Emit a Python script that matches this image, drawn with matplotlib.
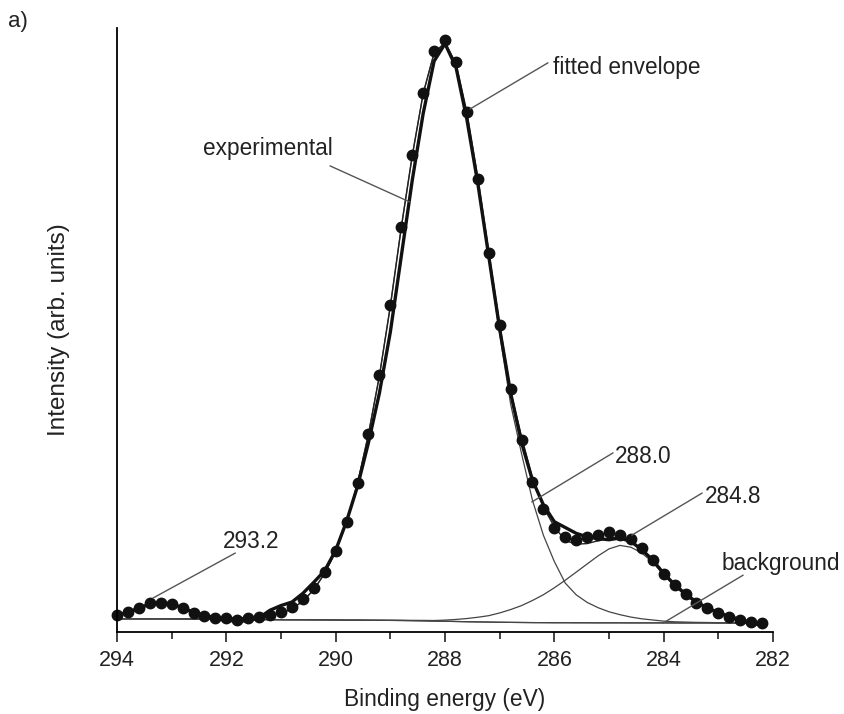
import numpy as np
import matplotlib.pyplot as plt
from matplotlib.ticker import MultipleLocator

plt.rcParams['font.family'] = ['Liberation Sans', 'DejaVu Sans']

# binding energy grid of the spectrum, 294.0 -> 282.2 eV in 0.2 eV steps
energy = np.round(np.arange(294.0, 282.1, -0.2), 1)

# measured points (dots)
points = [1.4, 1.9, 2.6, 3.4, 3.5, 3.3, 2.5, 1.8, 1.2, 0.8,
          0.8, 0.6, 0.9, 1.0, 1.3, 1.9, 2.8, 4.1, 6.0, 8.7,
          12.4, 17.4, 24.1, 32.5, 42.6, 54.6, 68.1, 80.3, 91.0, 98.2,
          100.1, 96.3, 87.7, 76.2, 63.5, 51.1, 40.2, 31.4, 24.3, 19.6,
          16.3, 14.7, 14.3, 14.7, 15.2, 15.7, 15.2, 14.4, 12.8, 10.9,
          8.5, 6.5, 5.0, 3.4, 2.5, 1.8, 1.1, 0.5, 0.2, 0.05]

# experimental curve (thick line)
experimental = [1.3, 1.8, 2.5, 3.3, 3.5, 3.3, 2.6, 1.8, 1.2, 0.7,
                0.5, 0.3, 0.4, 0.9, 2.2, 3.0, 3.6, 5.1, 7.0, 9.0,
                12.5, 17.5, 23.5, 31.0, 39.5, 50.0, 63.0, 76.0, 87.5, 96.5,
                99.5, 95.5, 86.5, 75.5, 63.0, 50.5, 39.5, 31.0, 24.5, 20.3,
                17.4, 16.4, 15.4, 14.8, 14.5, 14.3, 14.6, 14.0, 12.6, 10.8,
                8.5, 6.6, 5.0, 3.6, 2.6, 1.8, 1.1, 0.6, -0.3, -0.1]

# background
background = [0.7, 0.7, 0.7, 0.7, 0.7, 0.68, 0.66, 0.65, 0.64, 0.62,
              0.6, 0.6, 0.6, 0.58, 0.58, 0.56, 0.55, 0.55, 0.54, 0.53,
              0.52, 0.5, 0.5, 0.48, 0.47, 0.45, 0.43, 0.4, 0.37, 0.33,
              0.3, 0.26, 0.22, 0.19, 0.16, 0.13, 0.11, 0.09, 0.07, 0.06,
              0.05, 0.05, 0.04, 0.04, 0.03, 0.03, 0.03, 0.02, 0.02, 0.02,
              0.02, 0.01, 0.01, 0.01, 0.01, 0.0, 0.0, 0.0, 0.0, 0.0]

# fitted components (above background)
comp_2932 = [0.8, 1.3, 2.0, 2.6, 2.8, 2.6, 2.0, 1.3, 0.7, 0.35,
             0.15, 0.05, 0.0, 0.0, 0.0, 0.0, 0.0, 0.0, 0.0, 0.0,
             0.0, 0.0, 0.0, 0.0, 0.0, 0.0, 0.0, 0.0, 0.0, 0.0,
             0.0, 0.0, 0.0, 0.0, 0.0, 0.0, 0.0, 0.0, 0.0, 0.0,
             0.0, 0.0, 0.0, 0.0, 0.0, 0.0, 0.0, 0.0, 0.0, 0.0,
             0.0, 0.0, 0.0, 0.0, 0.0, 0.0, 0.0, 0.0, 0.0, 0.0]

comp_2880 = [0.0, 0.0, 0.0, 0.0, 0.02, 0.05, 0.08, 0.1, 0.13, 0.16,
             0.2, 0.25, 0.3, 0.45, 0.7, 1.1, 1.9, 3.2, 5.2, 8.0,
             11.8, 16.8, 23.5, 32.0, 42.0, 54.0, 67.5, 79.8, 90.5, 97.5,
             99.2, 95.5, 87.0, 75.5, 62.5, 49.5, 37.5, 29.0, 21.0, 15.0,
             10.5, 6.8, 4.8, 3.5, 2.6, 1.9, 1.4, 1.0, 0.7, 0.5,
             0.3, 0.2, 0.15, 0.1, 0.08, 0.05, 0.03, 0.02, 0.01, 0.0]

comp_2848 = [0.0, 0.0, 0.0, 0.0, 0.0, 0.0, 0.0, 0.0, 0.0, 0.0,
             0.0, 0.0, 0.0, 0.0, 0.0, 0.0, 0.0, 0.0, 0.0, 0.0,
             0.0, 0.0, 0.0, 0.0, 0.0, 0.02, 0.04, 0.06, 0.08, 0.1,
             0.2, 0.35, 0.55, 0.8, 1.1, 1.6, 2.2, 2.9, 3.8, 4.8,
             6.0, 7.3, 8.7, 10.1, 11.5, 12.7, 13.3, 13.0, 12.0, 10.4,
             8.3, 6.3, 4.7, 3.4, 2.4, 1.6, 1.0, 0.6, 0.3, 0.15]

# labels: text, text anchor (energy, intensity), leader line start and end
labels = ['experimental', 'fitted envelope', '293.2', '288.0', '284.8', 'background']
label_pos = [(292.43, 80.4), (286.02, 94.3), (292.06, 12.9),
             (284.89, 27.5), (283.24, 20.6), (282.94, 9.1)]
leader_from = [(290.10, 78.5), (286.12, 96.2), (291.84, 12.0),
               (284.93, 29.2), (283.30, 22.3), (282.55, 8.2)]
leader_to = [(288.64, 72.3), (287.54, 88.3), (293.34, 4.3),
             (286.41, 20.8), (284.58, 15.1), (284.01, 0.0)]

bg = np.array(background)
envelope = bg + np.array(comp_2932) + np.array(comp_2880) + np.array(comp_2848)

fig = plt.figure(figsize=(8.45, 7.14), dpi=100)
ax = fig.add_axes([0.1385, 0.1148, 0.7763, 0.846])

# components and background (thin grey)
ax.plot(energy, bg, color='#444444', lw=0.9)
for comp in [comp_2932, comp_2880, comp_2848]:
    ax.plot(energy, bg + np.array(comp), color='#444444', lw=0.9)

# fitted envelope (thin black)
ax.plot(energy, envelope, color='#222222', lw=1.0)
# experimental (thick)
ax.plot(energy, experimental, color='#111111', lw=2.4, solid_joinstyle='round')
# measured points
ax.plot(energy, points, 'o', color='#111111', ms=7.5, clip_on=False)

# annotations
for lab, pos, p0, p1 in zip(labels, label_pos, leader_from, leader_to):
    ax.plot([p0[0], p1[0]], [p0[1], p1[1]], color='#555555', lw=1.0)
    ax.text(pos[0], pos[1], lab, fontsize=16.3, color='#222222',
            ha='left', va='baseline')

ax.set_xlim(294, 282)
ax.set_ylim(-1.55, 102.2)

ax.spines['top'].set_visible(False)
ax.spines['right'].set_visible(False)
ax.spines['left'].set_linewidth(1.3)
ax.spines['bottom'].set_linewidth(1.3)
ax.set_yticks([])
ax.xaxis.set_major_locator(MultipleLocator(2))
ax.xaxis.set_minor_locator(MultipleLocator(1))
ax.tick_params(axis='x', which='major', direction='out', length=7, width=1.2,
               labelsize=15.5, colors='#222222', pad=6)
ax.tick_params(axis='x', which='minor', direction='out', length=5, width=1.2,
               colors='#222222')

ax.set_xlabel('Binding energy (eV)', fontsize=16.4, color='#222222', labelpad=12)
ax.set_ylabel('Intensity (arb. units)', fontsize=17.5, color='#222222', labelpad=34)

fig.text(8 / 845, 1 - 27 / 714, 'a)', fontsize=16, color='#222222', va='baseline')

fig.savefig('out.png', dpi=100)
